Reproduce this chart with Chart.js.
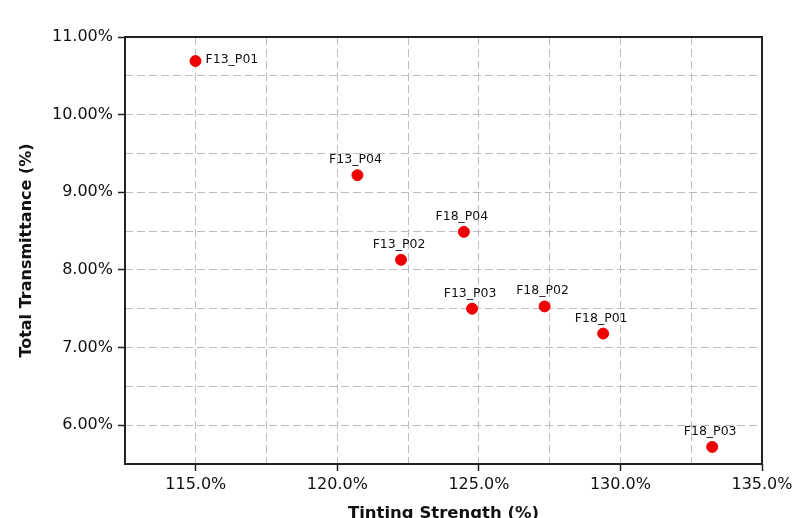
<!DOCTYPE html>
<html>
<head>
<meta charset="utf-8">
<script src="https://cdn.jsdelivr.net/npm/chart.js@4.4.0/dist/chart.umd.min.js"></script>
<style>
  html, body { margin: 0; padding: 0; background: #fff; }
  #wrap { width: 801px; height: 518px; }
</style>
</head>
<body>
<div id="wrap"><canvas id="chart"></canvas></div>
<script>
// sample names and measured values
const sampleNames = ['F13_P01', 'F13_P04', 'F18_P04', 'F13_P02', 'F13_P03', 'F18_P02', 'F18_P01', 'F18_P03'];
const tintingStrength = [114.99, 120.71, 124.47, 122.25, 124.76, 127.32, 129.39, 133.24];
const totalTransmittance = [10.69, 9.22, 8.49, 8.13, 7.50, 7.53, 7.18, 5.72];

const FONT = "'DejaVu Sans', Verdana, sans-serif";
const GRID = '#bdbdbd';

// labels next to each point
const pointLabels = {
  id: 'pointLabels',
  afterDatasetsDraw(chart) {
    const ctx = chart.ctx;
    const meta = chart.getDatasetMeta(0);
    ctx.save();
    ctx.font = '12.5px ' + FONT;
    ctx.fillStyle = '#111';
    meta.data.forEach((pt, i) => {
      const name = sampleNames[i];
      if (name === 'F13_P01') {
        ctx.textAlign = 'left';
        ctx.textBaseline = 'middle';
        ctx.fillText(name, pt.x + 10, pt.y - 1);
      } else {
        ctx.textAlign = 'center';
        ctx.textBaseline = 'bottom';
        ctx.fillText(name, pt.x - 2, pt.y - 9);
      }
    });
    ctx.restore();
  }
};

// full frame round the plot area
const frame = {
  id: 'frame',
  afterDraw(chart) {
    const { left, right, top, bottom } = chart.chartArea;
    const ctx = chart.ctx;
    ctx.save();
    ctx.strokeStyle = '#222';
    ctx.lineWidth = 2;
    ctx.strokeRect(left, top, right - left, bottom - top);
    ctx.restore();
  }
};

const points = tintingStrength.map((x, i) => ({ x, y: totalTransmittance[i] }));

new Chart(document.getElementById('chart'), {
  type: 'scatter',
  data: {
    datasets: [{
      data: points,
      backgroundColor: '#ee0000',
      borderColor: '#ee0000',
      pointRadius: 5.5,
      pointHoverRadius: 5.5
    }]
  },
  options: {
    responsive: true,
    maintainAspectRatio: false,
    animation: false,
    layout: { padding: { top: 37, right: 39, left: 0, bottom: 0 } },
    plugins: { legend: { display: false }, tooltip: { enabled: false } },
    scales: {
      x: {
        min: 112.5,
        max: 135,
        afterFit: s => { s.height = 54; },
        ticks: {
          stepSize: 2.5,
          autoSkip: false,
          maxRotation: 0,
          padding: 4,
          color: '#111',
          font: { family: FONT, size: 16 },
          callback: v => (v % 5 === 0 ? v.toFixed(1) + '%' : '')
        },
        grid: {
          color: GRID,
          lineWidth: 1,
          tickLength: 7,
          tickWidth: 1.5,
          tickColor: c => (c.tick && c.tick.value % 5 === 0 ? '#222' : 'rgba(0,0,0,0)')
        },
        border: { display: false, dash: [8, 4] },
        title: {
          display: true,
          text: 'Tinting Strength (%)',
          color: '#111',
          padding: { top: 0, bottom: -4 },
          font: { family: FONT, size: 16.5, weight: 'bold', lineHeight: 1 }
        }
      },
      y: {
        min: 5.5,
        max: 11,
        afterFit: s => { s.width = 125; },
        ticks: {
          stepSize: 0.5,
          autoSkip: false,
          padding: 5,
          color: '#111',
          font: { family: FONT, size: 16 },
          callback: v => (Math.abs(v - Math.round(v)) < 1e-6 ? v.toFixed(2) + '%' : '')
        },
        grid: {
          color: GRID,
          lineWidth: 1,
          tickLength: 7,
          tickWidth: 1.5,
          tickColor: c => (c.tick && Math.abs(c.tick.value - Math.round(c.tick.value)) < 1e-6 ? '#222' : 'rgba(0,0,0,0)')
        },
        border: { display: false, dash: [8, 4] },
        title: {
          display: true,
          text: 'Total Transmittance (%)',
          color: '#111',
          padding: { top: 19, bottom: 0 },
          font: { family: FONT, size: 16, weight: 'bold', lineHeight: 1 }
        }
      }
    }
  },
  plugins: [pointLabels, frame]
});
</script>
</body>
</html>
